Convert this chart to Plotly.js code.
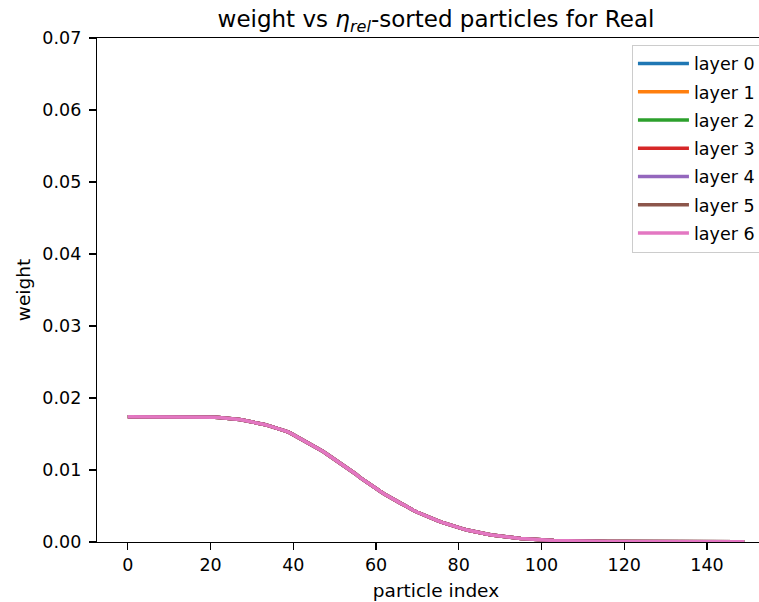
<!DOCTYPE html>
<html>
<head>
<meta charset="utf-8">
<script src="https://cdn.plot.ly/plotly-3.0.1.min.js"></script>
<style>
html,body{margin:0;padding:0;overflow:hidden;background:#fff;}
#chart{width:800px;height:602px;}
</style>
</head>
<body>
<div id="chart"></div>
<script>
// ---- data ----
const layerNames = ["layer 0","layer 1","layer 2","layer 3","layer 4","layer 5","layer 6"];
const layerColors = ["#1f77b4","#ff7f0e","#2ca02c","#d62728","#9467bd","#8c564b","#e377c2"];

// particle index 0..149
const particleIndex = [
  0,1,2,3,4,5,6,7,8,9,10,11,12,13,14,15,16,17,18,19,
  20,21,22,23,24,25,26,27,28,29,30,31,32,33,34,35,36,37,38,39,
  40,41,42,43,44,45,46,47,48,49,50,51,52,53,54,55,56,57,58,59,
  60,61,62,63,64,65,66,67,68,69,70,71,72,73,74,75,76,77,78,79,
  80,81,82,83,84,85,86,87,88,89,90,91,92,93,94,95,96,97,98,99,
  100,101,102,103,104,105,106,107,108,109,110,111,112,113,114,115,116,117,118,119,
  120,121,122,123,124,125,126,127,128,129,130,131,132,133,134,135,136,137,138,139,
  140,141,142,143,144,145,146,147,148,149
];

// weights (all layers overlap almost exactly)
const weights = [
  0.01740,0.01740,0.01741,0.01741,0.01742,0.01742,0.01742,0.01743,0.01743,0.01743,
  0.01743,0.01743,0.01742,0.01742,0.01741,0.01740,0.01739,0.01738,0.01736,0.01734,
  0.01733,0.01732,0.01730,0.01726,0.01721,0.01715,0.01708,0.01700,0.01691,0.01681,
  0.01670,0.01658,0.01645,0.01631,0.01616,0.01600,0.01583,0.01564,0.01544,0.01522,
  0.01490,0.01463,0.01434,0.01404,0.01372,0.01339,0.01305,0.01265,0.01225,0.01187,
  0.01148,0.01108,0.01068,0.01028,0.00988,0.00948,0.00900,0.00858,0.00818,0.00779,
  0.00741,0.00704,0.00668,0.00633,0.00600,0.00568,0.00537,0.00508,0.00470,0.00440,
  0.00413,0.00387,0.00362,0.00338,0.00315,0.00293,0.00272,0.00252,0.00233,0.00215,
  0.00198,0.00182,0.00167,0.00153,0.00140,0.00128,0.00117,0.00107,0.00097,0.00088,
  0.00080,0.00073,0.00066,0.00060,0.00054,0.00049,0.00044,0.00040,0.00036,0.00033,
  0.00030,0.00027,0.00025,0.00022,0.00020,0.00018,0.00017,0.00015,0.00014,0.00013,
  0.00012,0.00011,0.00010,0.00009,0.00009,0.00008,0.00008,0.00007,0.00007,0.00006,
  0.00006,0.00006,0.00006,0.00005,0.00005,0.00005,0.00005,0.00005,0.00005,0.00004,
  0.00004,0.00004,0.00004,0.00004,0.00004,0.00004,0.00004,0.00004,0.00004,0.00003,
  0.00003,0.00003,0.00003,0.00003,0.00003,0.00003,0.00003,0.00003,0.00003,0.00003
];

const xTickVals = [0,20,40,60,80,100,120,140];
const yTickVals = [0,0.01,0.02,0.03,0.04,0.05,0.06,0.07];

// ---- chart ----
const FONT = "DejaVu Sans, sans-serif";
const TICK = 17.5;
const traces = layerNames.map((name, i) => ({
  type: "scatter",
  mode: "lines",
  name: name,
  x: particleIndex,
  y: weights,
  legendgroup: name,
  line: {color: layerColors[i], width: 3.5},
  hoverinfo: "skip"
}));

const layout = {
  width: 800,
  height: 602,
  margin: {l: 97, r: 25, t: 38, b: 60},
  paper_bgcolor: "#ffffff",
  plot_bgcolor: "#ffffff",
  font: {family: FONT, size: TICK, color: "#000"},
  title: {
    text: "weight vs <i>η<sub>rel</sub></i>-sorted particles for Real",
    font: {family: FONT, size: 23, color: "#000"},
    x: 0.5, xref: "paper", xanchor: "center",
    y: 1, yref: "paper", yanchor: "bottom",
    pad: {b: 11}
  },
  xaxis: {
    range: [-7.45, 156.45],
    tickvals: xTickVals,
    ticks: "outside", ticklen: 7, tickwidth: 1.2, tickcolor: "#000",
    showline: true, linecolor: "#000", linewidth: 1.2, mirror: true,
    showgrid: false, zeroline: false,
    tickfont: {family: FONT, size: TICK, color: "#000"},
    title: {text: "particle index", font: {family: FONT, size: 18.5, color: "#000"}, standoff: 9}
  },
  yaxis: {
    range: [0, 0.07],
    tickvals: yTickVals,
    tickformat: ".2f",
    ticks: "outside", ticklen: 7, tickwidth: 1.2, tickcolor: "#000",
    ticklabelstandoff: 4,
    showline: true, linecolor: "#000", linewidth: 1.2, mirror: false,
    showgrid: false, zeroline: false,
    tickfont: {family: FONT, size: TICK, color: "#000"},
    title: {text: "weight", font: {family: FONT, size: 18.5, color: "#000"}, standoff: 6}
  },
  showlegend: true,
  legend: {
    x: 0.789, xanchor: "left",
    y: 0.987, yanchor: "top",
    bgcolor: "rgba(255,255,255,0.8)",
    bordercolor: "#cccccc", borderwidth: 1,
    font: {family: FONT, size: TICK, color: "#000"},
    traceorder: "grouped",
    tracegroupgap: 2.5,
    itemwidth: 51
  }
};

Plotly.newPlot("chart", traces, layout, {displayModeBar: false, staticPlot: true});
</script>
</body>
</html>
